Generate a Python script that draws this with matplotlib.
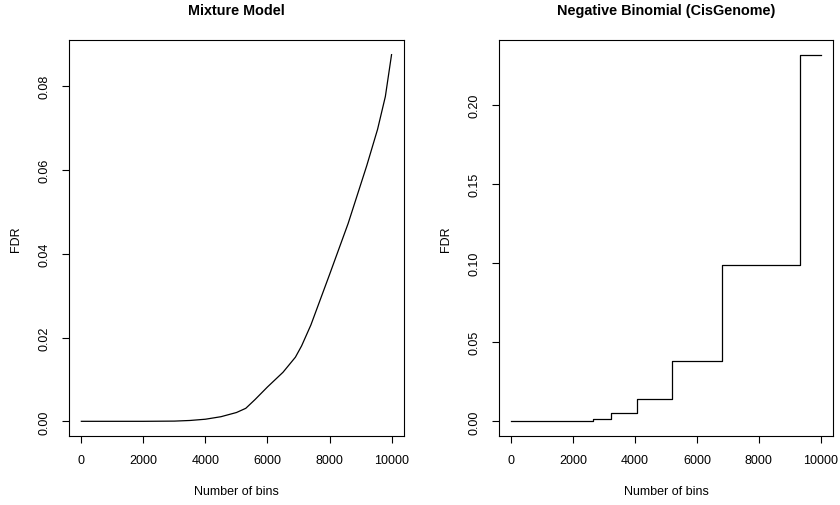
import numpy as np
import matplotlib
matplotlib.use("Agg")
import matplotlib.pyplot as plt

plt.rcParams['font.family'] = ['Liberation Sans', 'DejaVu Sans']

# mixture model FDR vs number of bins
mix_bins = [0, 1000, 2000, 3000, 3500, 4000, 4500, 5000, 5300, 5600, 6000,
            6500, 6900, 7100, 7400, 8000, 8600, 9200, 9550, 9800, 10000]
mix_fdr = [0, 0, 0, 0.00005, 0.0002, 0.0005, 0.0011, 0.0021, 0.0031, 0.0052,
           0.0082, 0.0117, 0.0153, 0.0180, 0.0230, 0.0350, 0.0472, 0.0610,
           0.0697, 0.0775, 0.0875]

# negative binomial (CisGenome) FDR, step function
nb_bins = [0, 2100, 2630, 3220, 4070, 5210, 6810, 9320, 10000]
nb_fdr = [0, 0.0004, 0.0017, 0.0053, 0.0141, 0.0378, 0.0989, 0.2315, 0.2315]

xticks = [0, 2000, 4000, 6000, 8000, 10000]


def r_style(ax, xs, ys, yticks, title):
    x0, x1 = min(xs), max(xs)
    y0, y1 = min(ys), max(ys)
    dx, dy = (x1 - x0) * 0.04, (y1 - y0) * 0.04
    ax.set_xlim(x0 - dx, x1 + dx)
    ax.set_ylim(y0 - dy, y1 + dy)
    ax.set_xticks(xticks)
    ax.set_yticks(yticks)
    ax.set_yticklabels(['%.2f' % t for t in yticks], rotation=90, va='center')
    ax.tick_params(direction='out', length=5, width=0.8, labelsize=9, pad=8)
    for s in ax.spines.values():
        s.set_linewidth(0.8)
    ax.set_xlabel('Number of bins', fontsize=9, labelpad=14)
    ax.set_ylabel('FDR', fontsize=9, labelpad=12)
    ax.set_title(title, fontsize=10.4, fontweight='bold', pad=18.5)


fig = plt.figure(figsize=(8.4, 5.06), dpi=100)
ax1 = fig.add_axes([0.0821, 0.1364, 0.3988, 0.7826])
ax2 = fig.add_axes([0.594, 0.1364, 0.3976, 0.7826])

ax1.plot(mix_bins, mix_fdr, color='black', lw=0.9)
r_style(ax1, mix_bins, mix_fdr, [0.0, 0.02, 0.04, 0.06, 0.08], 'Mixture Model')

ax2.step(nb_bins, nb_fdr, where='post', color='black', lw=0.9)
r_style(ax2, nb_bins, nb_fdr, [0.0, 0.05, 0.10, 0.15, 0.20],
        'Negative Binomial (CisGenome)')

fig.savefig('out.png', dpi=100)
